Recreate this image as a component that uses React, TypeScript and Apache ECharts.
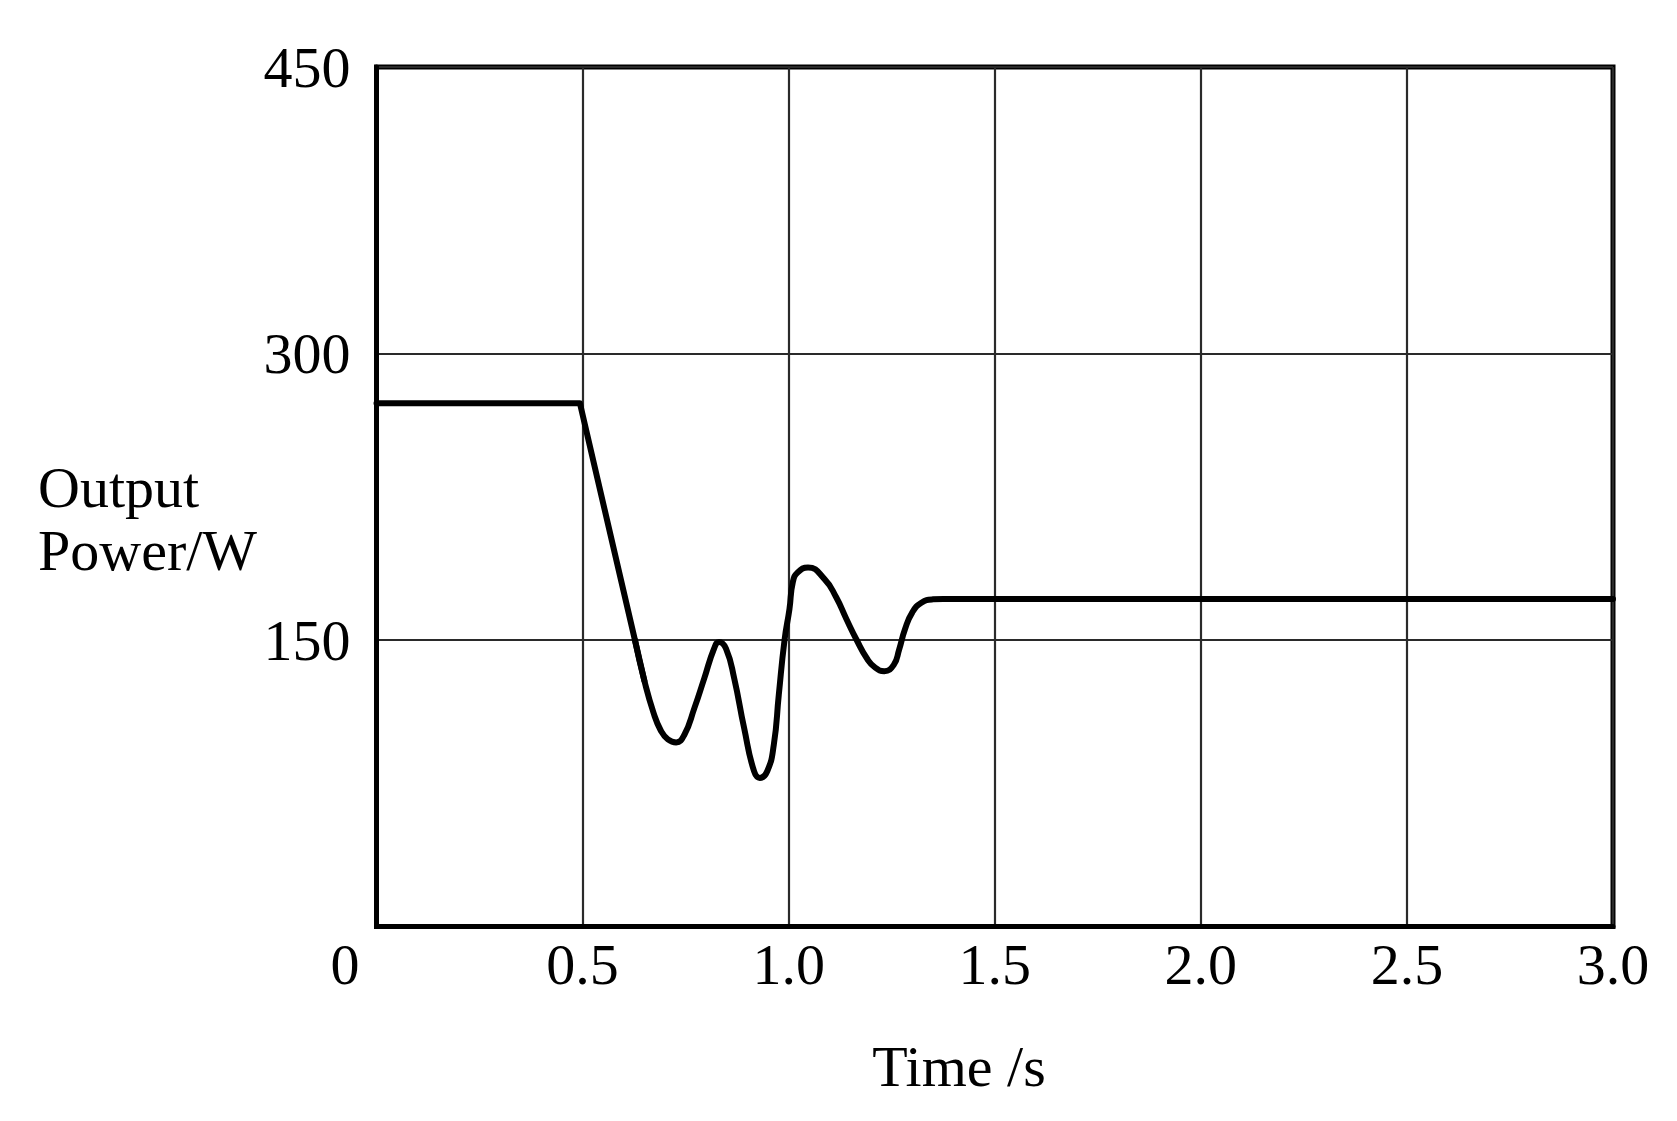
import React, { useEffect, useRef } from "react";
import * as echarts from "echarts";

// Simulated output power trace (time in s, power in W)
const timeS = [
  0, 0.4935, 0.627, 0.65, 0.672, 0.69, 0.707, 0.727, 0.747, 0.771, 0.795,
  0.819, 0.831, 0.848, 0.868, 0.892, 0.916, 0.93, 0.948, 0.964, 0.976, 0.99,
  1.002, 1.01, 1.022, 1.047, 1.087, 1.115, 1.14, 1.165, 1.19, 1.21, 1.232,
  1.255, 1.268, 1.282, 1.3, 1.322, 1.35, 1.375, 3.0,
];
const powerW = [
  274, 274, 150, 128.6, 112, 102.5, 98, 96.4, 100.4, 114.2, 129.8, 145.5, 149,
  145.5, 129.8, 103.8, 81.3, 77.8, 81.3, 95.2, 121.2, 150, 166.3, 180.2, 185.4,
  188, 181.9, 172.5, 161, 150, 140.3, 135.5, 133.7, 137, 145, 155.5, 164.5,
  169.5, 171.3, 171.5, 171.5,
];
// first points form the flat segment and the straight descent (drawn unsmoothed)
const straightCount = 4;
const xTicks = [0, 0.5, 1.0, 1.5, 2.0, 2.5, 3.0];
const yTicks = [0, 150, 300, 450];
const yNameLines = ["Output", "Power/W"];
const xName = "Time /s";

const FONT = '"Liberation Serif", "Times New Roman", serif';

export default function App() {
  const ref = useRef<HTMLDivElement>(null);
  useEffect(() => {
    document.body.style.margin = "0";
    const chart = echarts.init(ref.current!, undefined, { renderer: "svg" });
    const data = timeS.map((t, i) => [t, powerW[i]]);
    const lineStyle = { color: "#000", width: 6, cap: "round", join: "round" };
    chart.setOption({
      animation: false,
      backgroundColor: "#ffffff",
      grid: {
        left: 376.5,
        right: 64,
        top: 67,
        bottom: 194.5,
        show: true,
        borderColor: "#000",
        borderWidth: 5,
      },
      xAxis: {
        type: "value",
        min: xTicks[0],
        max: xTicks[xTicks.length - 1],
        interval: 0.5,
        axisLine: { show: true, lineStyle: { color: "#000", width: 5 } },
        axisTick: { show: false },
        splitLine: { show: true, lineStyle: { color: "#2a2a2a", width: 2.2 } },
        axisLabel: {
          margin: 37.5,
          verticalAlign: "middle",
          color: "#000",
          fontFamily: FONT,
          fontSize: 58,
          formatter: (v: number) => (v === 0 ? "{o|0}" : v.toFixed(1)),
          rich: {
            o: {
              fontFamily: FONT,
              fontSize: 58,
              color: "#000",
              padding: [0, 63, 0, 0],
            },
          },
        },
      },
      yAxis: {
        type: "value",
        min: yTicks[0],
        max: yTicks[yTicks.length - 1],
        interval: 150,
        axisLine: { show: true, lineStyle: { color: "#000", width: 5 } },
        axisTick: { show: false },
        splitLine: { show: true, lineStyle: { color: "#2a2a2a", width: 2.2 } },
        axisLabel: {
          margin: 26,
          color: "#000",
          fontFamily: FONT,
          fontSize: 58,
          formatter: (v: number) => (v === 0 ? "" : String(v)),
        },
      },
      graphic: [
        ...yNameLines.map((s, i) => ({
          type: "text",
          x: 38,
          y: 487 + i * 63.5,
          style: {
            text: s,
            font: `58px ${FONT}`,
            fill: "#000",
            align: "left",
            verticalAlign: "middle",
          },
        })),
        {
          type: "text",
          x: 959,
          y: 1066.5,
          style: {
            text: xName,
            font: `58px ${FONT}`,
            fill: "#000",
            align: "center",
            verticalAlign: "middle",
          },
        },
      ],
      series: [
        {
          type: "line",
          data: data.slice(0, straightCount),
          smooth: false,
          showSymbol: false,
          symbol: "none",
          lineStyle,
          z: 5,
        },
        {
          type: "line",
          data: data.slice(straightCount - 2),
          smooth: 0.5,
          showSymbol: false,
          symbol: "none",
          lineStyle,
          z: 5,
        },
      ],
    });
    return () => chart.dispose();
  }, []);
  return <div ref={ref} style={{ width: 1677, height: 1121 }} />;
}
